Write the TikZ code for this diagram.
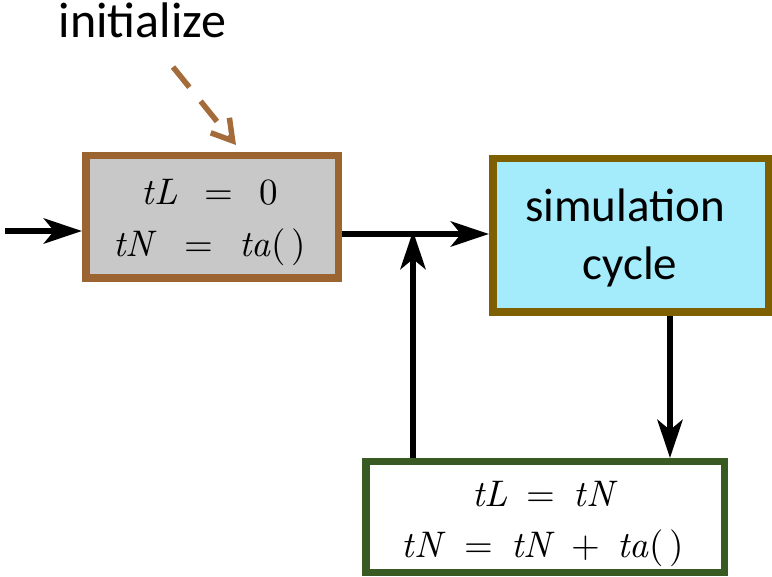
\documentclass[tikz,border=0pt]{standalone}
\usepackage{fontspec}
\setmainfont{Carlito}
\newfontfamily\lmfont{lmroman10-regular.otf}[ItalicFont=lmroman10-italic.otf]
\usetikzlibrary{arrows.meta}
\definecolor{brownB}{HTML}{9C6430}
\definecolor{brownD}{HTML}{A36C3A}
\definecolor{grayF}{HTML}{C8C8C8}
\definecolor{cyanF}{HTML}{A4ECFC}
\definecolor{oliveB}{HTML}{7F6000}
\definecolor{greenB}{HTML}{3A5A24}
\newcommand{\mv}[1]{{\itshape #1\/}}
\newcommand{\eqA}{\hspace{0.72em}=\hspace{0.72em}}
\newcommand{\eqB}{\hspace{0.5em}=\hspace{0.5em}}
\newcommand{\plusB}{\hspace{0.45em}+\hspace{0.45em}}
\newcommand{\emptyargs}{(\hspace{0.17em})}
\tikzset{
  box/.style={draw, rectangle, inner sep=0pt, line width=7.5pt},
  mtext/.style={anchor=base, inner sep=0pt, font=\lmfont\fontsize{37}{44}\selectfont},
  flow/.style={line width=6.5pt, -{Stealth[length=38pt, width=25pt, inset=10pt]}},
  initarrow/.style={draw=brownD, line width=5.5pt, dash pattern=on 26pt off 18pt,
    -{Straight Barb[length=20pt, width=24pt, line cap=butt]}}
}
\begin{document}
\begin{tikzpicture}[x=1pt, y=-1pt]
\useasboundingbox (0,0) rectangle (772,577);

% boxes
\node[box, draw=brownB, fill=grayF, minimum width=252.5pt, minimum height=122.5pt] (left) at (212,217) {};
\node[box, draw=oliveB, fill=cyanF, minimum width=275.5pt, minimum height=153.5pt] (sim) at (630.5,235.5) {};
\node[box, draw=greenB, fill=white, minimum width=358.5pt, minimum height=110.5pt] (bot) at (545,517) {};

% texts
\node[anchor=base, inner sep=0pt, font=\fontsize{50}{60}\selectfont] (init) at (142.5,38) {initialize};
\node[anchor=base, inner sep=0pt, font=\fontsize{47}{56}\selectfont] (simA) at (625,222) {simulation};
\node[anchor=base, inner sep=0pt, font=\fontsize{47}{56}\selectfont] (simB) at (630,280) {cycle};
\node[mtext] (l1) at (210,205) {\mv{tL}\eqA 0};
\node[mtext] (l2) at (210,257) {\mv{tN}\eqA \mv{ta}\emptyargs};
\node[mtext] (b1) at (545,507) {\mv{tL}\eqB \mv{tN}};
\node[mtext] (b2) at (543,558) {\mv{tN}\eqB \mv{tN}\plusB \mv{ta}\emptyargs};

% connectors
\coordinate (in) at (5,231);
\coordinate (j) at (413,234);
\coordinate (d) at (670,400);
\coordinate (ds) at (173,67);
\coordinate (de) at (236,145);

\draw[flow] (in) -- (in -| left.west);
\draw[flow] (left.east |- j) -- (sim.west |- j);
\draw[flow] (bot.north -| j) -- ([yshift=3pt]j);
\draw[flow] (sim.south -| d) -- (bot.north -| d);
\draw[initarrow] (ds) -- (de);
\end{tikzpicture}
\end{document}
